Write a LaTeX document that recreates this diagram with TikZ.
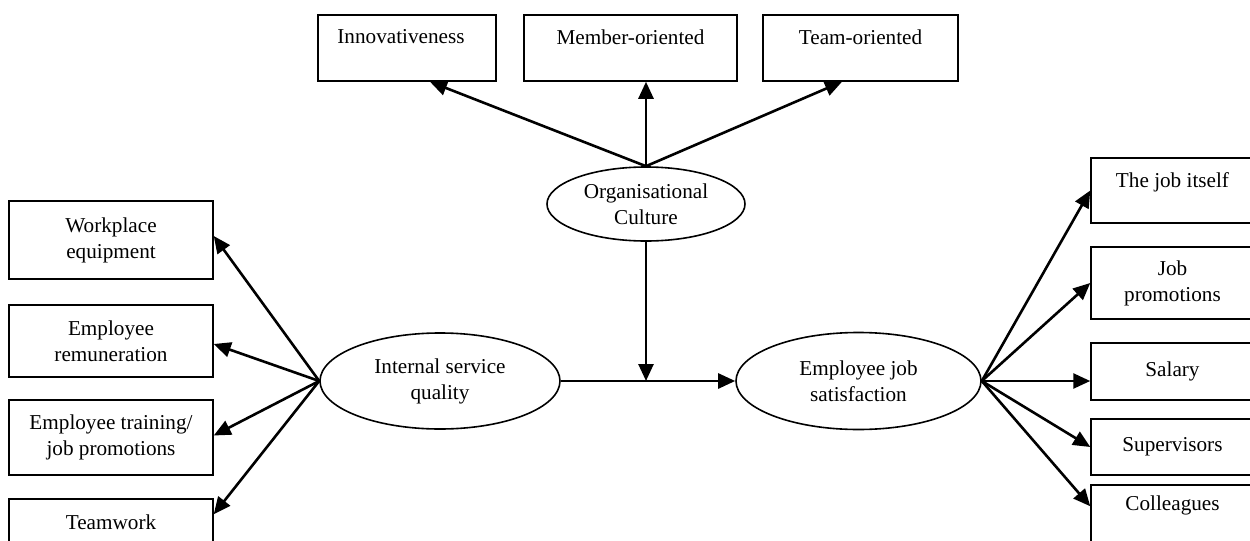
\documentclass[tikz,border=0pt]{standalone}
\usepackage{fontspec}
\setmainfont{Liberation Serif}
\usetikzlibrary{shapes.geometric,arrows.meta}
\begin{document}
\begin{tikzpicture}[x=0.5pt, y=-0.5pt,
    every node/.style={font=\fontsize{10.6}{13}\selectfont, align=center},
    factor/.style={rectangle, draw, line width=0.75pt, inner sep=0pt},
    toptext/.style={anchor=north, inner sep=0pt, yshift=-7.5pt},
    construct/.style={ellipse, draw, line width=0.8pt, inner sep=0pt},
    arr/.style={-{Triangle[length=8.5pt, width=7.5pt]}, line width=1.3pt}]
    \clip (0,0) rectangle (1250,541);
    % organisational culture and its dimensions
    \node at (646, 204) [construct, minimum width=99pt, minimum height=37pt] (org) {Organisational\\Culture};
    \node at (407, 48) [factor, minimum width=89pt, minimum height=33pt, label={[toptext, xshift=-3pt]north:Innovativeness}] (innov) {};
    \node at (630.5, 48) [factor, minimum width=106.5pt, minimum height=33pt, label={[toptext]north:Member-oriented}] (member) {};
    \node at (860.5, 48) [factor, minimum width=97.5pt, minimum height=33pt, label={[toptext]north:Team-oriented}] (teamor) {};
    % internal service quality
    \node at (440, 381) [construct, minimum width=120pt, minimum height=48pt] (isq) {Internal service\\quality};
    \node at (111, 240) [factor, minimum width=102pt, minimum height=39pt] (equip) {Workplace\\equipment};
    \node at (111, 341) [factor, minimum width=102pt, minimum height=36pt] (remun) {Employee\\remuneration};
    \node at (111, 437.5) [factor, minimum width=102pt, minimum height=37.5pt] (train) {Employee training/\\job promotions};
    \node at (111, 537) [factor, minimum width=102pt, minimum height=38pt, label={[toptext, yshift=-0.5pt]north:Teamwork}] (teamw) {};
    % employee job satisfaction
    \node at (858.5, 381) [construct, minimum width=122.5pt, minimum height=48.5pt] (ejs) {Employee job\\satisfaction};
    \node at (1172.5, 190.5) [factor, minimum width=81.5pt, minimum height=32.5pt, label={[toptext]north:The job itself}] (jobit) {};
    \node at (1172.5, 283) [factor, minimum width=81.5pt, minimum height=36pt] (jobpr) {Job\\promotions};
    \node at (1172.5, 371.5) [factor, minimum width=81.5pt, minimum height=28.5pt] (salary) {Salary};
    \node at (1172.5, 447) [factor, minimum width=81.5pt, minimum height=28pt] (superv) {Supervisors};
    \node at (1172.5, 522.5) [factor, minimum width=81.5pt, minimum height=37.5pt, label={[toptext, yshift=2pt]north:Colleagues}] (coll) {};
    \coordinate (meet) at (org.south |- isq.east);
    % arrows
    \draw[arr] (org.north) -- ([xshift=11.5pt]innov.south);
    \draw[arr] (org.north) -- (org.north |- member.south);
    \draw[arr] (org.north) -- ([xshift=-9.25pt]teamor.south);
    \draw[arr] (org.south) -- (meet);
    \draw[arr] (isq.east) -- (ejs.west);
    \draw[arr] (isq.west) -- ([yshift=2pt]equip.east);
    \draw[arr] (isq.west) -- ([yshift=-1.5pt]remun.east);
    \draw[arr] (isq.west) -- ([yshift=1pt]train.east);
    \draw[arr] (isq.west) -- ([yshift=-8pt]teamw.north east);
    \draw[arr] (ejs.east) -- (jobit.west);
    \draw[arr] (ejs.east) -- (jobpr.west);
    \draw[arr] (ejs.east) -- (ejs.east -| salary.west);
    \draw[arr] (ejs.east) -- (superv.west);
    \draw[arr] (ejs.east) -- ([yshift=-11pt]coll.north west);
\end{tikzpicture}
\end{document}
